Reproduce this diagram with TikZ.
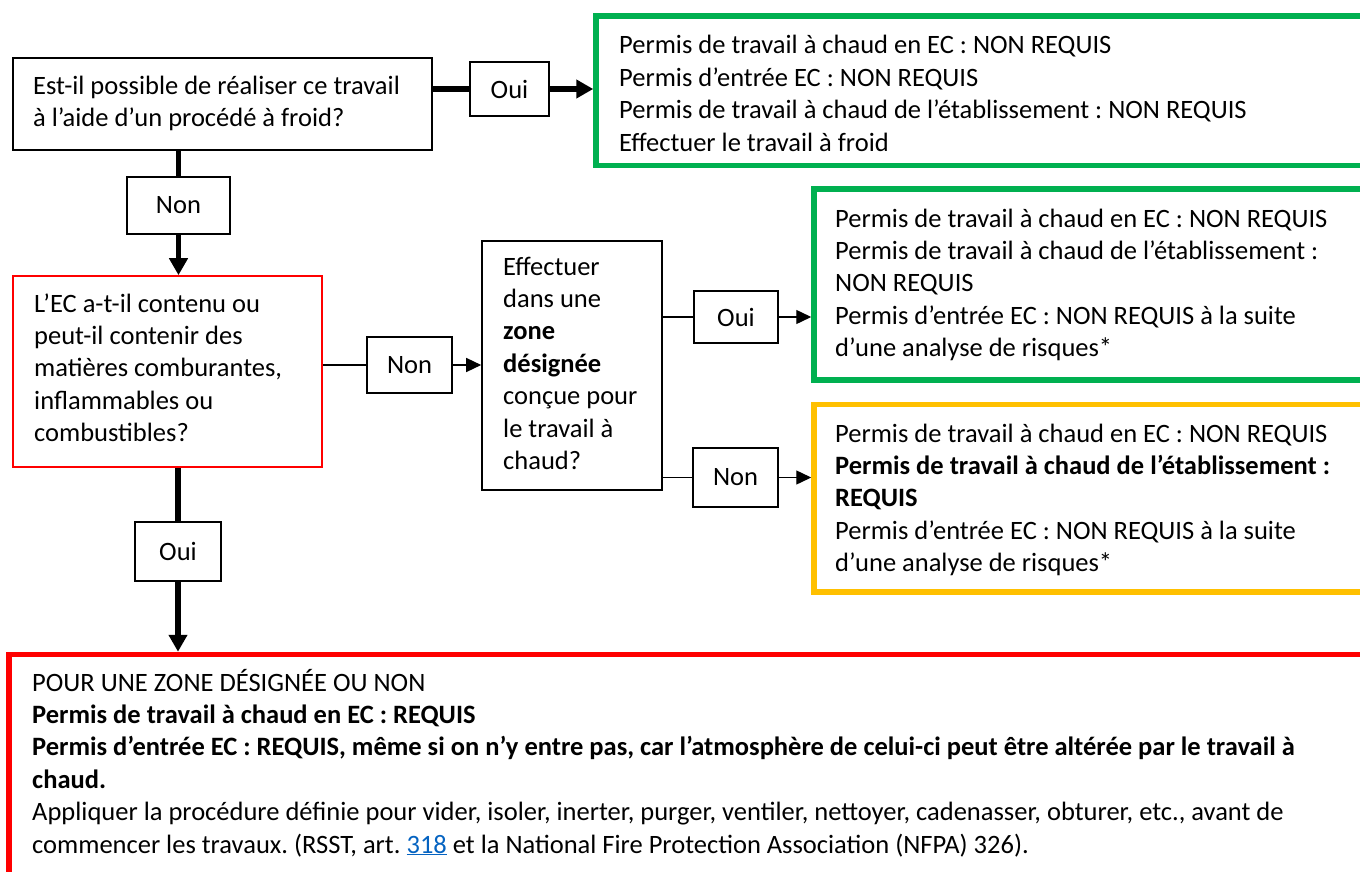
\documentclass[tikz,border=0pt]{standalone}
\usepackage{fontspec}
\setmainfont{Carlito}
\usepackage{xcolor}
\usetikzlibrary{arrows.meta}
\definecolor{vert}{HTML}{00B050}
\definecolor{jaune}{HTML}{FFC000}
\definecolor{rouge}{HTML}{FF0000}
\definecolor{lien}{HTML}{0563C1}
\frenchspacing
\tikzset{>={Triangle[length=15pt,width=14pt]},
  cadre/.style={draw,line width=1.6pt,inner sep=0pt},
  couleur/.style={draw=#1,line width=5.5pt,inner sep=0pt},
  txt/.style={anchor=base west,align=left,inner sep=0pt},
  fin/.style={line width=1.4pt},
  fort/.style={line width=5.5pt},
  grosse/.style={line width=5.5pt,-{Triangle[length=17pt,width=18pt]}}}

\begin{document}
\begin{tikzpicture}[x=1pt,y=-1pt,font=\fontsize{26.5}{32.4}\selectfont]
  \useasboundingbox (0,0) rectangle (1360,872);
  \clip (0,0) rectangle (1360,872);

  % questions
  \node[cadre,minimum width=419pt,minimum height=92pt] (q1) at (222.5,104) {};
  \node[cadre,draw=rouge,minimum width=309pt,minimum height=191pt] (q2) at (167.5,371.5) {};
  \node[cadre,minimum width=180pt,minimum height=249pt] (q3) at (572,365.5) {};

  % resultats
  \node[couleur=vert,minimum width=804pt,minimum height=149.5pt] (g1) at (998,90.75) {};
  \node[couleur=vert,minimum width=586pt,minimum height=191pt] (g2) at (1107,284.5) {};
  \node[couleur=jaune,minimum width=586pt,minimum height=187.5pt] (y1) at (1107,498.25) {};
  \node[couleur=rouge,minimum width=1391pt,minimum height=265.5pt] (bot) at (704.5,787.25) {};

  % oui / non
  \node[cadre,minimum width=79pt,minimum height=54pt] (oui1) at (509.5,89) {Oui};
  \node[cadre,minimum width=103pt,minimum height=57pt] (non1) at (178.5,205.5) {Non};
  \node[cadre,minimum width=85pt,minimum height=56pt] (non2) at (409.5,365) {Non};
  \node[cadre,minimum width=84pt,minimum height=52pt] (oui3) at (736,317) {Oui};
  \node[cadre,minimum width=85pt,minimum height=59pt] (non3) at (735.5,477.5) {Non};
  \node[cadre,minimum width=86pt,minimum height=59pt] (oui2) at (178,551.5) {Oui};

  % textes (base = derniere ligne)
  \node[txt] (q1txt) at (33,126.9) {Est-il possible de réaliser ce travail\\à l’aide d’un procédé à froid?};
  \node[txt] (q2txt) at (34,441.6) {L’EC a-t-il contenu ou\\peut-il contenir des\\matières comburantes,\\inflammables ou\\combustibles?};
  \node[txt] (q3txt) at (503,469.4) {Effectuer\\dans une\\\textbf{zone}\\\textbf{désignée}\\conçue pour\\le travail à\\chaud?};
  \node[txt] (g1txt) at (619,151.2) {Permis de travail à chaud en EC : NON REQUIS\\Permis d’entrée EC : NON REQUIS\\Permis de travail à chaud de l’établissement : NON REQUIS\\Effectuer le travail à froid};
  \node[txt] (g2txt) at (835,356.6) {Permis de travail à chaud en EC : NON REQUIS\\Permis de travail à chaud de l’établissement :\\NON REQUIS\\Permis d’entrée EC : NON REQUIS à la suite\\d’une analyse de risques*};
  \node[txt] (y1txt) at (835,571.6) {Permis de travail à chaud en EC : NON REQUIS\\\textbf{Permis de travail à chaud de l’établissement :}\\\textbf{REQUIS}\\Permis d’entrée EC : NON REQUIS à la suite\\d’une analyse de risques*};
  \node[txt] (bottxt) at (32,853) {POUR UNE ZONE DÉSIGNÉE OU NON\\\textbf{Permis de travail à chaud en EC : REQUIS}\\\textbf{Permis d’entrée EC : REQUIS, même si on n’y entre pas, car l’atmosphère de celui-ci peut être altérée par le travail à}\\\textbf{chaud.}\\Appliquer la procédure définie pour vider, isoler, inerter, purger, ventiler, nettoyer, cadenasser, obturer, etc., avant de\\commencer les travaux. (RSST, art. \textcolor{lien}{\underline{318}} et la National Fire Protection Association (NFPA) 326).};

  % liens
  \draw[fort] (oui1.west -| q1.east) -- (oui1.west);
  \draw[grosse] (oui1.east) -- (oui1.east -| g1.west);
  \draw[fort] (non1.north |- q1.south) -- (non1.north);
  \draw[grosse] (non1.south) -- (non1.south |- q2.north);
  \draw[fin] (non2.west -| q2.east) -- (non2.west);
  \draw[fin,->] (non2.east) -- (non2.east -| q3.west);
  \draw[fin] (oui3.west -| q3.east) -- (oui3.west);
  \draw[fin,->] (oui3.east) -- (oui3.east -| g2.west);
  \draw[fin] (non3.west -| q3.east) -- (non3.west);
  \draw[fin,->] (non3.east) -- (non3.east -| y1.west);
  \draw[fort] (oui2.north |- q2.south) -- (oui2.north);
  \draw[grosse] (oui2.south) -- (oui2.south |- bot.north);
\end{tikzpicture}
\end{document}
